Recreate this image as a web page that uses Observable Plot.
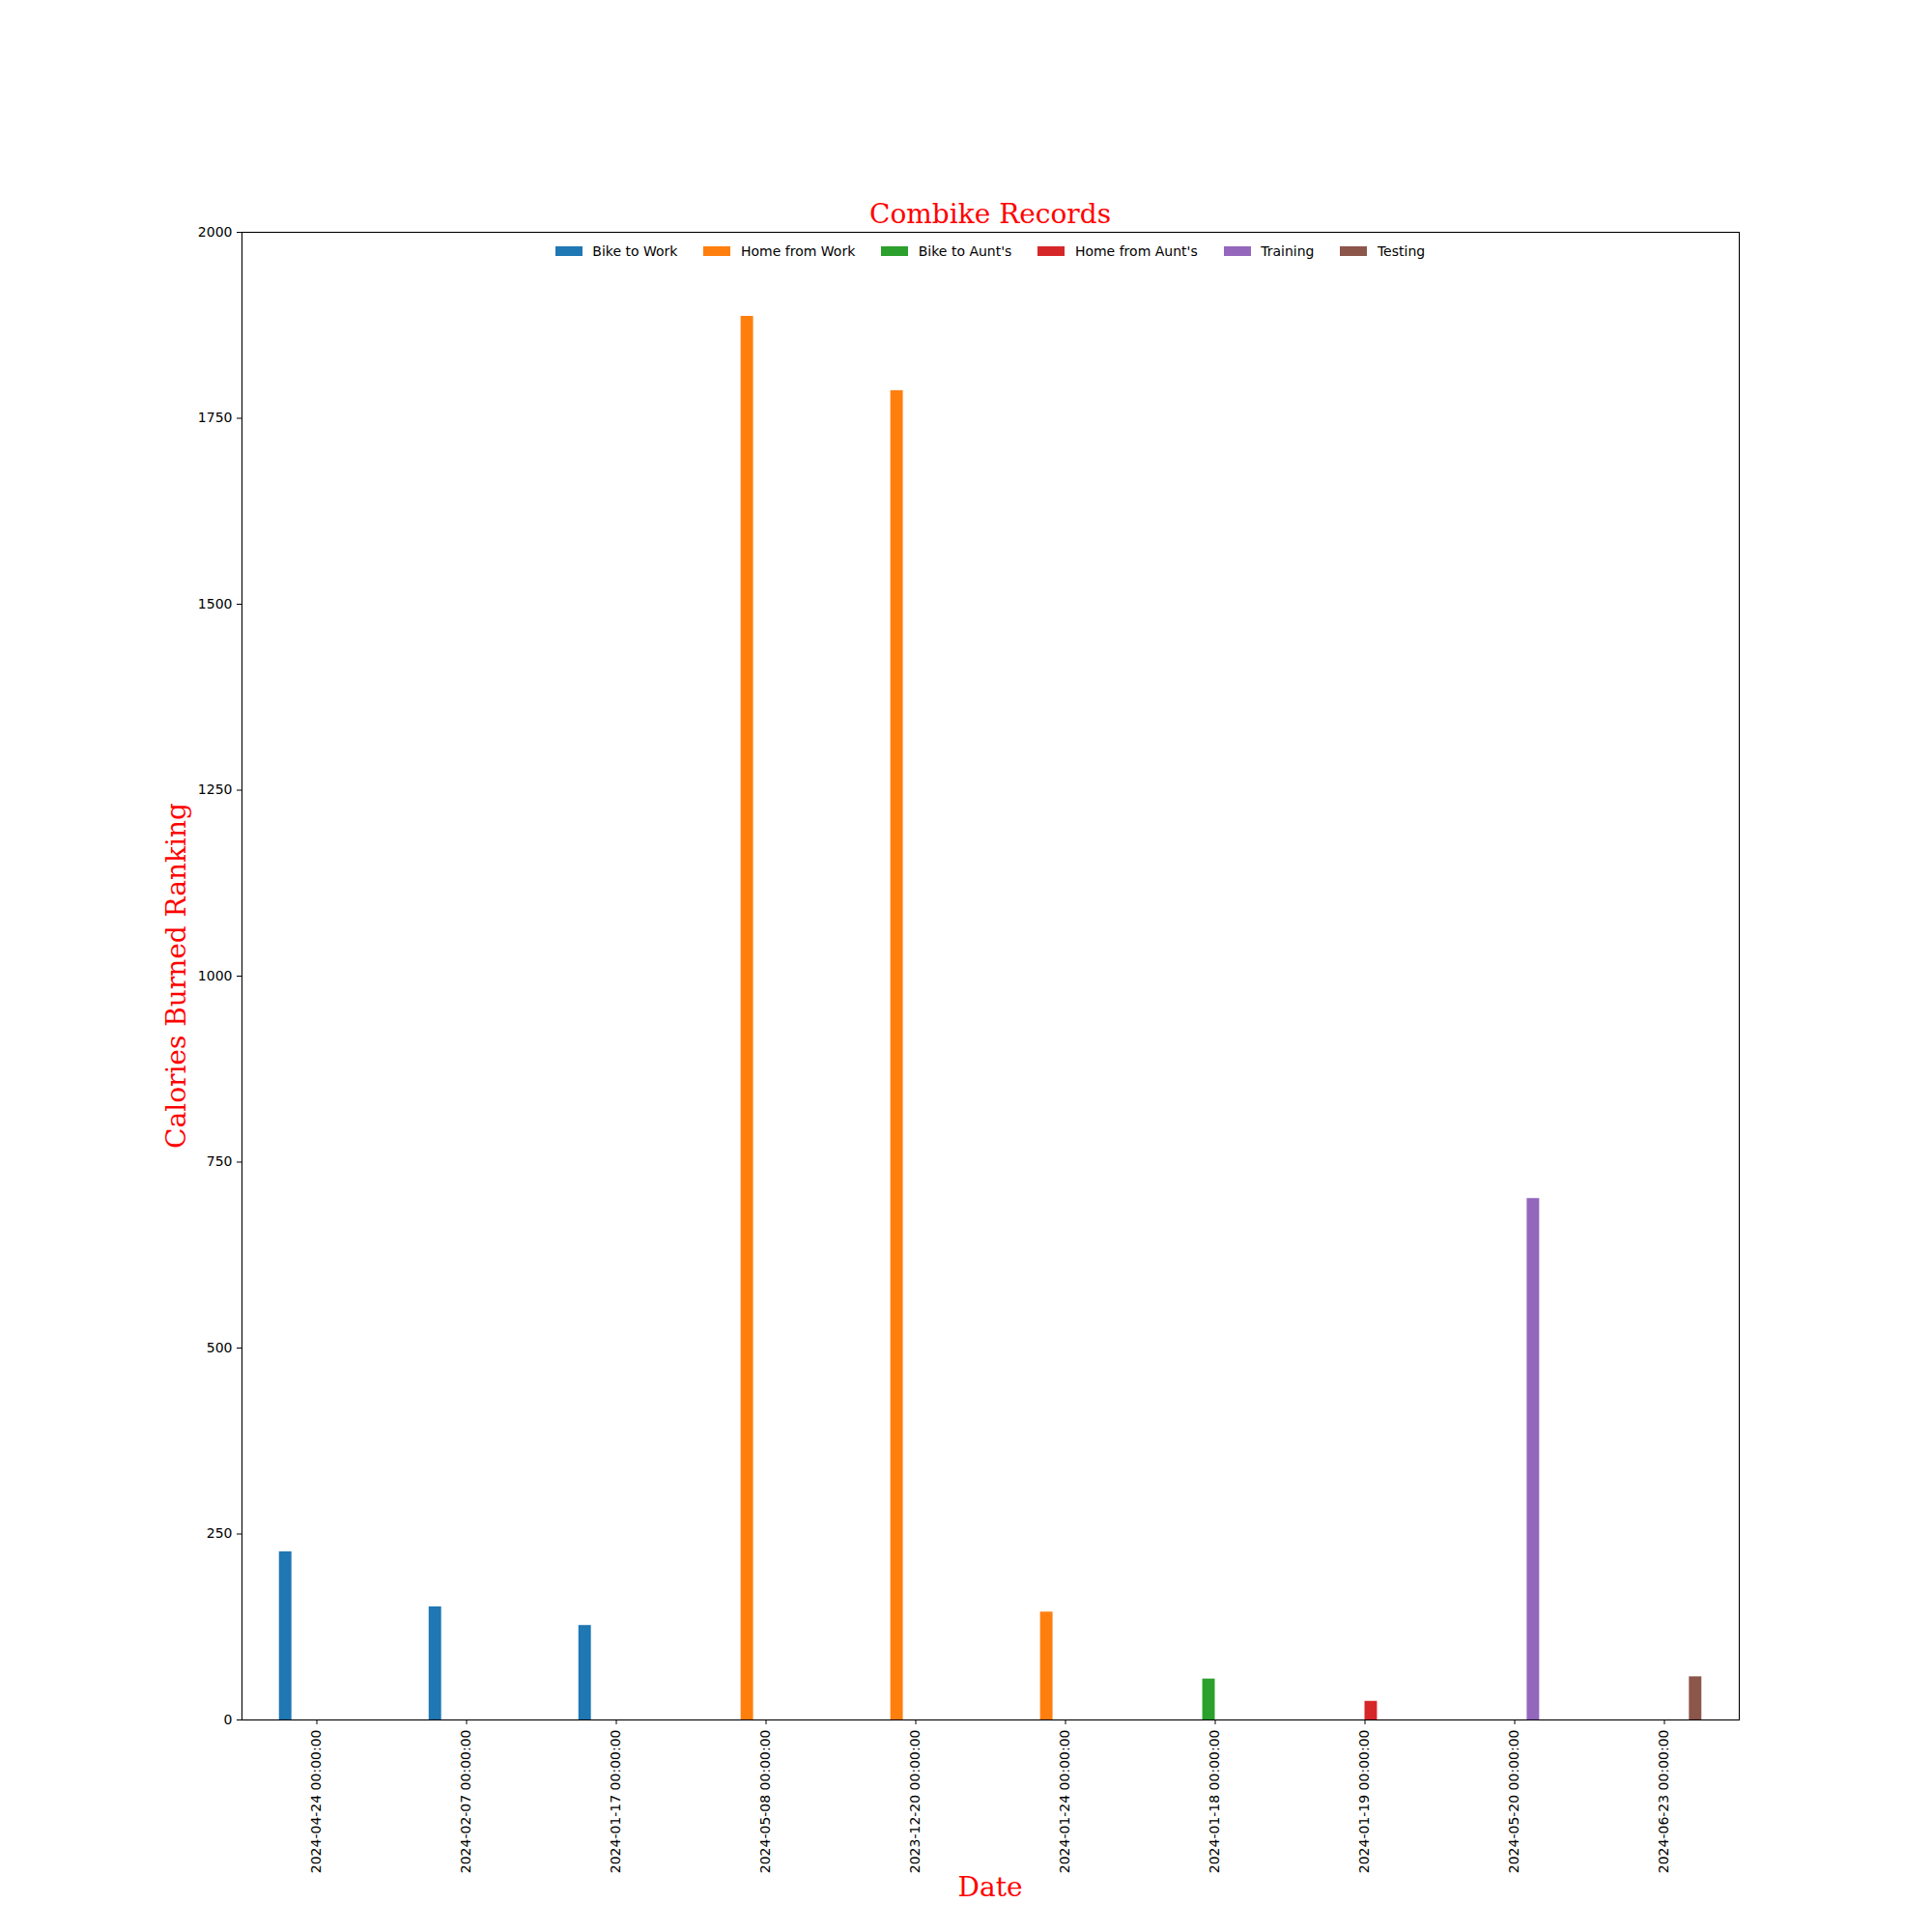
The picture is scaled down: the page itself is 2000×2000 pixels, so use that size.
<!DOCTYPE html>
<html>
<head>
<meta charset="utf-8">
<script src="https://cdn.jsdelivr.net/npm/d3@7"></script>
<script src="https://cdn.jsdelivr.net/npm/@observablehq/plot@0.6"></script>
<style>
  html, body { margin: 0; padding: 0; background: white; }
  #wrap { position: relative; width: 2000px; height: 2000px; overflow: hidden; background: white; }
  #wrap > svg, #chart > svg { position: absolute; left: 0; top: 0; }
  .title { position: absolute; left: 250px; width: 1550px; top: 208px; text-align: center;
           font: 28px/28px "DejaVu Serif", serif; color: red; white-space: nowrap; }
  .xlabel { position: absolute; left: 250px; width: 1550px; top: 1940px; text-align: center;
            font: 28px/28px "DejaVu Serif", serif; color: red; white-space: nowrap; }
  .ylabel { position: absolute; left: -117px; width: 600px; top: 996px; height: 28px; text-align: center;
            font: 28px/28px "DejaVu Serif", serif; color: red; white-space: nowrap;
            transform: rotate(-90deg); transform-origin: 50% 50%; }
  #legend { position: absolute; left: 250px; width: 1550px; top: 250px; height: 20px;
            display: flex; justify-content: center; align-items: center; }
  #legend .leg-swatches { display: flex !important; align-items: center !important; min-height: 0 !important;
            margin: 0 !important; font: 14px/20px "DejaVu Sans", sans-serif !important; color: black; }
  #legend .leg-swatch { margin-right: 27px !important; display: inline-flex; align-items: center; }
  #legend .leg-swatch:last-child { margin-right: 0 !important; }
  #legend .leg-swatch > svg { margin-right: 10.5px !important; }
</style>
</head>
<body>
<div id="wrap">
  <div id="chart"></div>
  <div class="title" id="title"></div>
  <div class="ylabel" id="ylabel"></div>
  <div class="xlabel" id="xlabel"></div>
  <div id="legend"></div>
</div>
<script>
// ---- data ----
const dates = [
  "2024-04-24 00:00:00", "2024-02-07 00:00:00", "2024-01-17 00:00:00",
  "2024-05-08 00:00:00", "2023-12-20 00:00:00", "2024-01-24 00:00:00",
  "2024-01-18 00:00:00", "2024-01-19 00:00:00", "2024-05-20 00:00:00",
  "2024-06-23 00:00:00"
];
const series = ["Bike to Work", "Home from Work", "Bike to Aunt's", "Home from Aunt's", "Training", "Testing"];
const dateSeries = [
  "Bike to Work", "Bike to Work", "Bike to Work",
  "Home from Work", "Home from Work", "Home from Work",
  "Bike to Aunt's", "Home from Aunt's", "Training", "Testing"
];
const calories = [226, 152, 127, 1887, 1787, 145, 55, 25, 701, 58];
const colors = ["#1f77b4", "#ff7f0e", "#2ca02c", "#d62728", "#9467bd", "#8c564b"];
const yTicks = [0, 250, 500, 750, 1000, 1250, 1500, 1750, 2000];
const titleText = "Combike Records";
const xLabelText = "Date";
const yLabelText = "Calories Burned Ranking";

const data = dates.map((d, i) => ({date: d, series: dateSeries[i], cal: calories[i]}));

const chart = Plot.plot({
  width: 2000,
  height: 2000,
  marginTop: 240,
  marginBottom: 220,
  marginLeft: 250,
  marginRight: 200,
  style: {fontFamily: "DejaVu Sans", fontSize: "14px", color: "black", background: "white"},
  fx: {domain: dates, padding: 0, round: false, label: null},
  x: {domain: series, paddingInner: 0, paddingOuter: 3, round: false, axis: null},
  y: {domain: [0, 2000], label: null},
  color: {domain: series, range: colors},
  marks: [
    Plot.barY(data, {fx: "date", x: "series", y: "cal", fill: "series", inset: 0}),
    Plot.axisY({ticks: yTicks, tickSize: 5, tickPadding: 5, tickFormat: d => String(d), label: null, fontSize: 14, fill: "black"}),
    Plot.axisFx({anchor: "bottom", tickRotate: -90, tickSize: 5, tickPadding: 5, label: null, fontSize: 14, fill: "black"}),
    Plot.frame({facet: "super", stroke: "black", strokeWidth: 1.1})
  ]
});
document.getElementById("chart").appendChild(chart);

document.getElementById("title").textContent = titleText;
document.getElementById("xlabel").textContent = xLabelText;
document.getElementById("ylabel").textContent = yLabelText;

const legend = Plot.legend({
  color: {domain: series, range: colors},
  legend: "swatches",
  swatchWidth: 28,
  swatchHeight: 10,
  className: "leg",
  style: {fontFamily: "DejaVu Sans", fontSize: "14px"}
});
document.getElementById("legend").appendChild(legend);
</script>
</body>
</html>
